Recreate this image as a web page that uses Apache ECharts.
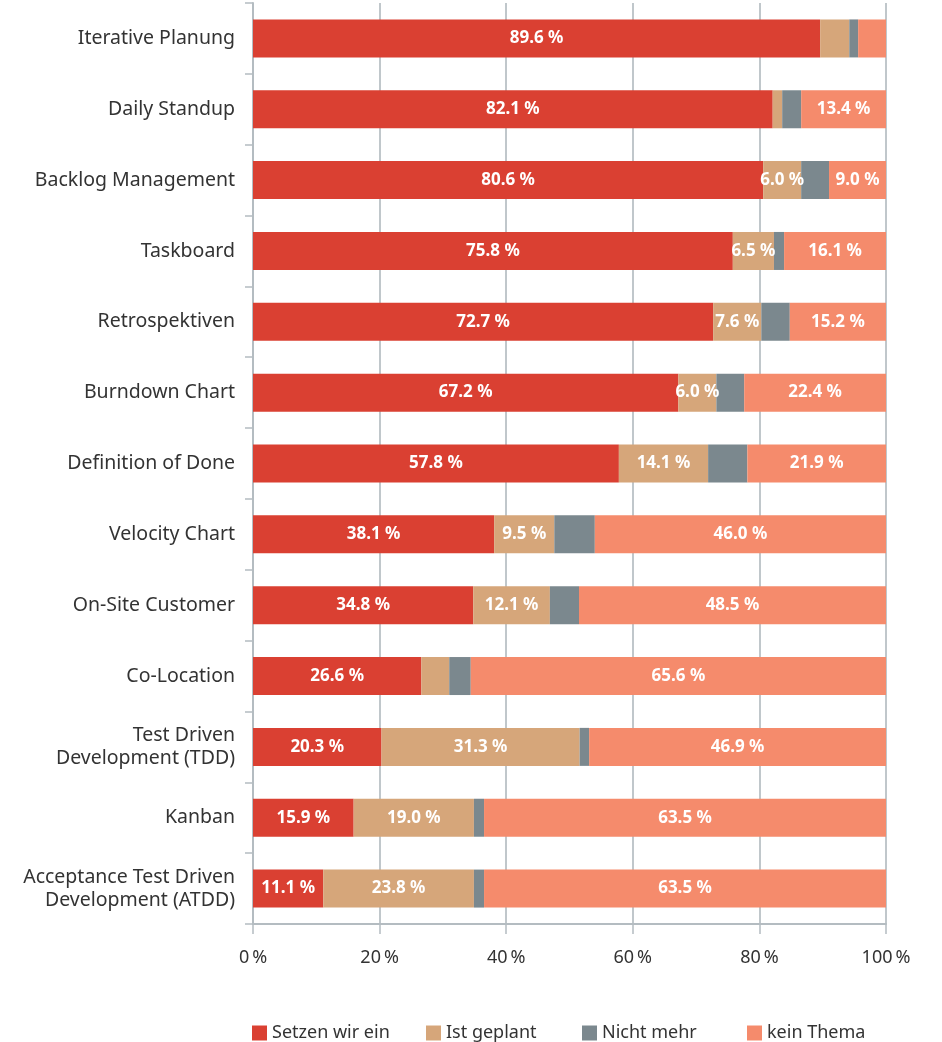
<!DOCTYPE html>
<html>
<head>
<meta charset="utf-8">
<script src="https://cdn.jsdelivr.net/npm/echarts@6/dist/echarts.min.js"></script>
<style>
  html, body { margin: 0; padding: 0; background: #fff; }
  #chart { width: 942px; height: 1042px; }
</style>
</head>
<body>
<div id="chart"></div>
<script>
// Kategorien (von oben nach unten)
var categories = [
    'Iterative Planung', 'Daily Standup', 'Backlog Management', 'Taskboard',
    'Retrospektiven', 'Burndown Chart', 'Definition of Done', 'Velocity Chart',
    'On-Site Customer', 'Co-Location', 'Test Driven\nDevelopment (TDD)', 'Kanban',
    'Acceptance Test Driven\nDevelopment (ATDD)'
];
var seriesNames  = ['Setzen wir ein', 'Ist geplant', 'Nicht mehr', 'kein Thema'];
var setzenWirEin = [89.6, 82.1, 80.6, 75.8, 72.7, 67.2, 57.8, 38.1, 34.8, 26.6, 20.3, 15.9, 11.1];
var istGeplant   = [4.6, 1.5, 6.0, 6.5, 7.6, 6.0, 14.1, 9.5, 12.1, 4.4, 31.3, 19.0, 23.8];
var nichtMehr    = [1.4, 3.0, 4.4, 1.6, 4.5, 4.4, 6.2, 6.4, 4.6, 3.4, 1.5, 1.6, 1.6];
var keinThema    = [4.4, 13.4, 9.0, 16.1, 15.2, 22.4, 21.9, 46.0, 48.5, 65.6, 46.9, 63.5, 63.5];
var xTicks = [0, 20, 40, 60, 80, 100];

var myChart = echarts.init(document.getElementById('chart'));

function pctLabel(params) {
    // kleine Segmente ohne Beschriftung
    if (params.value < 5.5) return '';
    return params.value.toFixed(1) + ' %';
}

function makeSeries(name, data, color, showLabel) {
    return {
        name: name,
        type: 'bar',
        stack: 'total',
        barWidth: 38,
        data: data,
        itemStyle: { color: color },
        label: {
            show: showLabel,
            position: 'inside',
            color: '#fff',
            fontWeight: 'bold',
            fontSize: 17,
            fontFamily: 'Noto Sans',
            formatter: pctLabel
        }
    };
}

// Legende: ein Eintrag pro Block, damit die Abstände stimmen
var legendLeft = [247, 421, 577, 742];
var legends = seriesNames.map(function (name, i) {
    return {
        top: 1019,
        left: legendLeft[i],
        itemWidth: 15,
        itemHeight: 15,
        icon: 'rect',
        textStyle: {
            fontSize: 18,
            color: '#333',
            fontFamily: 'Noto Sans'
        },
        data: [name]
    };
});

var option = {
    animation: false,
    grid: {
        left: 253,
        right: 56,
        top: 3,
        bottom: 118
    },
    legend: legends,
    xAxis: {
        type: 'value',
        min: xTicks[0],
        max: xTicks[xTicks.length - 1],
        interval: 20,
        axisLine: { show: true, lineStyle: { color: '#b4bcc1', width: 2 } },
        axisTick: { show: true, length: 10, lineStyle: { color: '#b4bcc1', width: 1.5 } },
        axisLabel: {
            formatter: '{value}\u2009%',
            fontSize: 18,
            color: '#333',
            margin: 25,
            fontFamily: 'Noto Sans'
        },
        splitLine: { show: true, lineStyle: { color: '#c0c7cb', width: 2 } }
    },
    yAxis: {
        type: 'category',
        inverse: true,
        data: categories,
        axisLine: { show: true, lineStyle: { color: '#b4bcc1', width: 2 } },
        axisTick: { show: true, length: 8, lineStyle: { color: '#b4bcc1', width: 1.5 } },
        axisLabel: {
            fontSize: 19.5,
            color: '#333',
            margin: 18,
            lineHeight: 23,
            fontFamily: 'Noto Sans'
        }
    },
    series: [
        makeSeries(seriesNames[0], setzenWirEin, '#da4032', true),
        makeSeries(seriesNames[1], istGeplant, '#d6a67a', true),
        makeSeries(seriesNames[2], nichtMehr, '#7b888e', false),
        makeSeries(seriesNames[3], keinThema, '#f58b6c', true)
    ]
};
myChart.setOption(option);
</script>
</body>
</html>
